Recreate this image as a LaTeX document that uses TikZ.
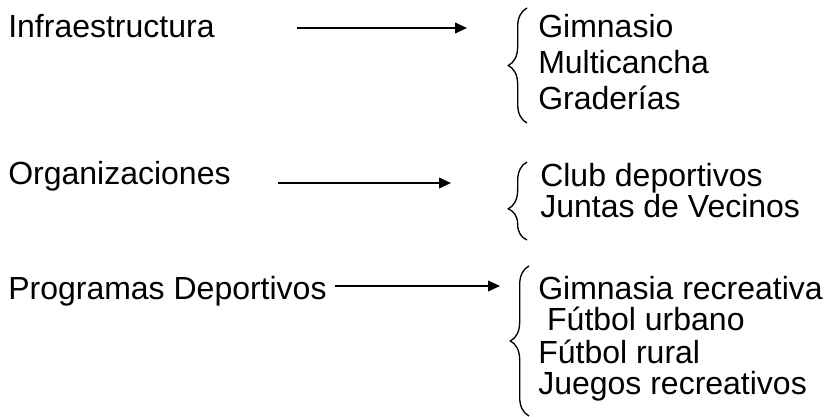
\documentclass[tikz,border=0pt]{standalone}
\usepackage{fontspec}
\setmainfont{Liberation Sans}
\usetikzlibrary{arrows.meta, positioning, decorations.pathreplacing}

\begin{document}
\begin{tikzpicture}[
        x=0.75pt, y=-0.75pt,
        every node/.style={font=\fontsize{24}{28}\selectfont, inner sep=0pt},
        head/.style={anchor=base west},
        item/.style={anchor=base west},
        line/.style={draw, line width=1.3pt, -{Triangle[length=9pt, width=8pt]}},
        curly/.style={draw, line width=1pt, decorate, decoration={brace, amplitude=14pt}}
    ]
        \useasboundingbox (0,0) rectangle (828,417);

        \node [head] (infra) at (8,38) {Infraestructura};
        \node [head] (org) at (8,185) {Organizaciones};
        \node [head] (prog) at (8,299) {Programas Deportivos};

        \node [item] (gim) at (538,38) {Gimnasio};
        \node [item] (multi) at (538,74) {Multicancha};
        \node [item] (grad) at (538,110) {Graderías};

        \node [item] (club) at (540,186) {Club deportivos};
        \node [item] (juntas) at (540,218) {Juntas de Vecinos};

        \node [item] (gimrec) at (538,299) {Gimnasia recreativa};
        \node [item] (futurb) at (538,330) {\ Fútbol urbano};
        \node [item] (futrur) at (538,363) {Fútbol rural};
        \node [item] (juegos) at (538,394) {Juegos recreativos};

        \coordinate (infra-a) at (297,28);
        \coordinate (infra-b) at (467,28);
        \coordinate (org-a) at (278,183);
        \coordinate (org-b) at (451,183);
        \coordinate (prog-a) at (335,286);
        \coordinate (prog-b) at (500,286);

        \path [line] (infra-a) -- (infra-b);
        \path [line] (org-a) -- (org-b);
        \path [line] (prog-a) -- (prog-b);

        % braces grouping each list
        \path [curly] (527,123) -- (527,8);
        \path [curly, decoration={aspect=0.4}] (527,240) -- (527,162);
        \path [curly] (529,416) -- (529,266);
    \end{tikzpicture}
\end{document}
